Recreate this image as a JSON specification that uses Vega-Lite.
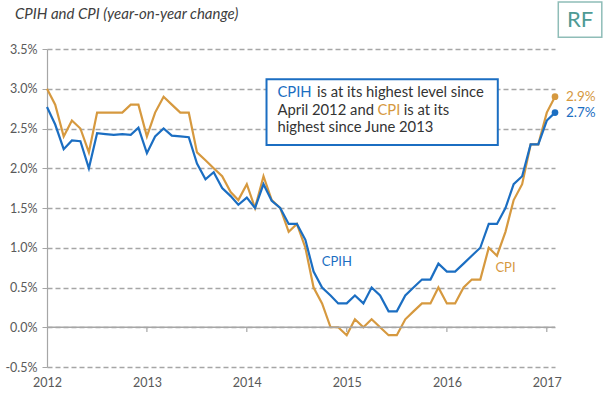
{
  "$schema": "https://vega.github.io/schema/vega-lite/v6.json",
  "width": 508,
  "height": 318,
  "autosize": "none",
  "padding": {"left": 47, "top": 49, "right": 50, "bottom": 30},
  "background": "white",
  "config": {
    "view": {"stroke": null},
    "font": "Lato",
    "axis": {"labelFont": "Lato", "labelColor": "#595959", "labelFontSize": 12.5}
  },
  "resolve": {"axis": {"x": "independent", "y": "independent"}},
  "datasets": {
    "cpi": [
      {"date": "2012-04-01", "CPIH": 2.77, "CPI": 3.0},
      {"date": "2012-05-01", "CPIH": 2.55, "CPI": 2.8},
      {"date": "2012-06-01", "CPIH": 2.24, "CPI": 2.4},
      {"date": "2012-07-01", "CPIH": 2.35, "CPI": 2.6},
      {"date": "2012-08-01", "CPIH": 2.34, "CPI": 2.5},
      {"date": "2012-09-01", "CPIH": 2.0, "CPI": 2.2},
      {"date": "2012-10-01", "CPIH": 2.44, "CPI": 2.7},
      {"date": "2012-11-01", "CPIH": 2.43, "CPI": 2.7},
      {"date": "2012-12-01", "CPIH": 2.42, "CPI": 2.7},
      {"date": "2013-01-01", "CPIH": 2.43, "CPI": 2.7},
      {"date": "2013-02-01", "CPIH": 2.42, "CPI": 2.8},
      {"date": "2013-03-01", "CPIH": 2.51, "CPI": 2.8},
      {"date": "2013-04-01", "CPIH": 2.19, "CPI": 2.4},
      {"date": "2013-05-01", "CPIH": 2.4, "CPI": 2.7},
      {"date": "2013-06-01", "CPIH": 2.5, "CPI": 2.9},
      {"date": "2013-07-01", "CPIH": 2.41, "CPI": 2.8},
      {"date": "2013-08-01", "CPIH": 2.4, "CPI": 2.7},
      {"date": "2013-09-01", "CPIH": 2.39, "CPI": 2.7},
      {"date": "2013-10-01", "CPIH": 2.06, "CPI": 2.2},
      {"date": "2013-11-01", "CPIH": 1.86, "CPI": 2.1},
      {"date": "2013-12-01", "CPIH": 1.95, "CPI": 2.0},
      {"date": "2014-01-01", "CPIH": 1.75, "CPI": 1.9},
      {"date": "2014-02-01", "CPIH": 1.65, "CPI": 1.7},
      {"date": "2014-03-01", "CPIH": 1.54, "CPI": 1.6},
      {"date": "2014-04-01", "CPIH": 1.63, "CPI": 1.8},
      {"date": "2014-05-01", "CPIH": 1.5, "CPI": 1.5},
      {"date": "2014-06-01", "CPIH": 1.8, "CPI": 1.9},
      {"date": "2014-07-01", "CPIH": 1.59, "CPI": 1.6},
      {"date": "2014-08-01", "CPIH": 1.5, "CPI": 1.5},
      {"date": "2014-09-01", "CPIH": 1.3, "CPI": 1.2},
      {"date": "2014-10-01", "CPIH": 1.3, "CPI": 1.3},
      {"date": "2014-11-01", "CPIH": 1.1, "CPI": 1.0},
      {"date": "2014-12-01", "CPIH": 0.7, "CPI": 0.5},
      {"date": "2015-01-01", "CPIH": 0.5, "CPI": 0.3},
      {"date": "2015-02-01", "CPIH": 0.4, "CPI": 0.0},
      {"date": "2015-03-01", "CPIH": 0.3, "CPI": 0.0},
      {"date": "2015-04-01", "CPIH": 0.3, "CPI": -0.1},
      {"date": "2015-05-01", "CPIH": 0.4, "CPI": 0.1},
      {"date": "2015-06-01", "CPIH": 0.3, "CPI": 0.0},
      {"date": "2015-07-01", "CPIH": 0.5, "CPI": 0.1},
      {"date": "2015-08-01", "CPIH": 0.4, "CPI": 0.0},
      {"date": "2015-09-01", "CPIH": 0.2, "CPI": -0.1},
      {"date": "2015-10-01", "CPIH": 0.2, "CPI": -0.1},
      {"date": "2015-11-01", "CPIH": 0.4, "CPI": 0.1},
      {"date": "2015-12-01", "CPIH": 0.5, "CPI": 0.2},
      {"date": "2016-01-01", "CPIH": 0.6, "CPI": 0.3},
      {"date": "2016-02-01", "CPIH": 0.6, "CPI": 0.3},
      {"date": "2016-03-01", "CPIH": 0.8, "CPI": 0.5},
      {"date": "2016-04-01", "CPIH": 0.7, "CPI": 0.3},
      {"date": "2016-05-01", "CPIH": 0.7, "CPI": 0.3},
      {"date": "2016-06-01", "CPIH": 0.8, "CPI": 0.5},
      {"date": "2016-07-01", "CPIH": 0.9, "CPI": 0.6},
      {"date": "2016-08-01", "CPIH": 1.0, "CPI": 0.6},
      {"date": "2016-09-01", "CPIH": 1.3, "CPI": 1.0},
      {"date": "2016-10-01", "CPIH": 1.3, "CPI": 0.9},
      {"date": "2016-11-01", "CPIH": 1.5, "CPI": 1.2},
      {"date": "2016-12-01", "CPIH": 1.8, "CPI": 1.6},
      {"date": "2017-01-01", "CPIH": 1.9, "CPI": 1.8},
      {"date": "2017-02-01", "CPIH": 2.3, "CPI": 2.3},
      {"date": "2017-03-01", "CPIH": 2.3, "CPI": 2.3},
      {"date": "2017-04-01", "CPIH": 2.6, "CPI": 2.7},
      {"date": "2017-05-01", "CPIH": 2.7, "CPI": 2.9}
    ]
  },
  "layer": [
    {
      "data": {"name": "cpi"},
      "transform": [{"fold": ["CPI", "CPIH"], "as": ["series", "value"]}],
      "mark": {"type": "line", "strokeWidth": 2.2},
      "encoding": {
        "x": {
          "field": "date",
          "type": "temporal",
          "title": null,
          "scale": {
            "type": "utc",
            "domain": [
              {"year": 2012, "month": 4, "date": 1, "utc": true},
              {"year": 2017, "month": 5, "date": 1, "utc": true}
            ]
          },
          "axis": {
            "values": [
              {"year": 2012, "month": 4, "date": 1, "utc": true},
              {"year": 2013, "month": 4, "date": 1, "utc": true},
              {"year": 2014, "month": 4, "date": 1, "utc": true},
              {"year": 2015, "month": 4, "date": 1, "utc": true},
              {"year": 2016, "month": 4, "date": 1, "utc": true},
              {"year": 2017, "month": 4, "date": 1, "utc": true}
            ],
            "labelExpr": "utcFormat(datum.value, '%Y')",
            "domain": false,
            "ticks": false,
            "grid": false,
            "labelPadding": 9,
            "labelFlush": false,
            "labelOverlap": false
          }
        },
        "y": {
          "field": "value",
          "type": "quantitative",
          "title": null,
          "scale": {"domain": [-0.5, 3.5], "nice": false, "zero": false},
          "axis": {
            "values": [-0.5, 0, 0.5, 1, 1.5, 2, 2.5, 3, 3.5],
            "labelExpr": "replace(format(datum.value, '.1f'), '\u2212', '-') + '%'",
            "grid": true,
            "gridDash": [5, 3],
            "gridColor": "#a6a6a6",
            "gridWidth": 1.3,
            "domainColor": "#a6a6a6",
            "domainWidth": 1.2,
            "tickColor": "#a6a6a6",
            "tickSize": 5,
            "labelPadding": 5,
            "labelOverlap": false
          }
        },
        "color": {
          "field": "series",
          "type": "nominal",
          "legend": null,
          "scale": {"domain": ["CPIH", "CPI"], "range": ["#1b6ec2", "#d6993f"]}
        }
      }
    },
    {
      "data": {"values": [{}]},
      "mark": {"type": "rule", "color": "#a6a6a6", "strokeWidth": 1.3},
      "encoding": {"y": {"datum": 0, "axis": null}}
    },
    {
      "data": {"values": [{"d": "2013-04-01"}, {"d": "2014-04-01"}, {"d": "2015-04-01"}, {"d": "2016-04-01"}, {"d": "2017-04-01"}]},
      "mark": {"type": "rule", "color": "#a6a6a6", "strokeWidth": 1.2},
      "encoding": {
        "x": {"field": "d", "type": "temporal", "axis": null},
        "y": {"datum": 0, "axis": null},
        "y2": {"datum": -0.06}
      }
    },
    {
      "data": {"name": "cpi"},
      "transform": [
        {"fold": ["CPI", "CPIH"], "as": ["series", "value"]},
        {"filter": "utcyear(datum.date) == 2017 && utcmonth(datum.date) == 4"},
        {"calculate": "format(datum.value, '.1f') + '%'", "as": "label"}
      ],
      "layer": [
        {
          "mark": {"type": "point", "filled": true, "size": 45, "opacity": 1},
          "encoding": {
            "x": {"field": "date", "type": "temporal", "axis": null},
            "y": {"field": "value", "type": "quantitative", "axis": null},
            "color": {"field": "series", "type": "nominal"}
          }
        },
        {
          "mark": {"type": "text", "align": "left", "baseline": "middle", "dx": 11, "fontSize": 13.5, "font": "Lato"},
          "encoding": {
            "x": {"field": "date", "type": "temporal", "axis": null},
            "y": {"field": "value", "type": "quantitative", "axis": null},
            "text": {"field": "label"},
            "color": {"field": "series", "type": "nominal"}
          }
        }
      ]
    },
    {
      "data": {"values": [{}]},
      "mark": {"type": "text", "fontSize": 13, "color": "#1b6ec2", "font": "Lato", "baseline": "middle"},
      "encoding": {
        "x": {"datum": {"year": 2015, "month": 2, "date": 24, "utc": true}, "type": "temporal", "axis": null},
        "y": {"datum": 0.82, "axis": null},
        "text": {"value": "CPIH"}
      }
    },
    {
      "data": {"values": [{}]},
      "mark": {"type": "text", "fontSize": 13, "color": "#d6993f", "font": "Lato", "baseline": "middle"},
      "encoding": {
        "x": {"datum": {"year": 2016, "month": 11, "date": 1, "utc": true}, "type": "temporal", "axis": null},
        "y": {"datum": 0.745, "axis": null},
        "text": {"value": "CPI"}
      }
    },
    {
      "data": {"values": [{}]},
      "mark": {"type": "rect", "fill": "white", "stroke": "#1b6ec2", "strokeWidth": 2},
      "encoding": {
        "x": {"datum": {"year": 2014, "month": 6, "date": 12, "utc": true}, "type": "temporal", "axis": null},
        "x2": {"datum": {"year": 2016, "month": 10, "date": 4, "utc": true}},
        "y": {"datum": 3.119, "axis": null},
        "y2": {"datum": 2.292}
      }
    },
    {
      "data": {"values": [{}]},
      "mark": {"type": "text", "align": "left", "baseline": "middle", "fontSize": 14.8, "font": "Lato", "color": "#1b6ec2"},
      "encoding": {
        "x": {"datum": {"year": 2014, "month": 7, "date": 22, "utc": true}, "type": "temporal", "axis": null},
        "y": {"datum": 2.943, "axis": null},
        "text": {"value": "CPIH"}
      }
    },
    {
      "data": {"values": [{}]},
      "mark": {"type": "text", "align": "left", "baseline": "middle", "fontSize": 14.8, "font": "Lato", "color": "#333333", "dx": 39.5},
      "encoding": {
        "x": {"datum": {"year": 2014, "month": 7, "date": 22, "utc": true}, "type": "temporal", "axis": null},
        "y": {"datum": 2.943, "axis": null},
        "text": {"value": "is at its highest level since"}
      }
    },
    {
      "data": {"values": [{}]},
      "mark": {"type": "text", "align": "left", "baseline": "middle", "fontSize": 14.8, "font": "Lato", "color": "#333333"},
      "encoding": {
        "x": {"datum": {"year": 2014, "month": 7, "date": 22, "utc": true}, "type": "temporal", "axis": null},
        "y": {"datum": 2.72, "axis": null},
        "text": {"value": "April 2012 and"}
      }
    },
    {
      "data": {"values": [{}]},
      "mark": {"type": "text", "align": "left", "baseline": "middle", "fontSize": 14.8, "font": "Lato", "color": "#d6993f", "dx": 100},
      "encoding": {
        "x": {"datum": {"year": 2014, "month": 7, "date": 22, "utc": true}, "type": "temporal", "axis": null},
        "y": {"datum": 2.72, "axis": null},
        "text": {"value": "CPI"}
      }
    },
    {
      "data": {"values": [{}]},
      "mark": {"type": "text", "align": "left", "baseline": "middle", "fontSize": 14.8, "font": "Lato", "color": "#333333", "dx": 126.3},
      "encoding": {
        "x": {"datum": {"year": 2014, "month": 7, "date": 22, "utc": true}, "type": "temporal", "axis": null},
        "y": {"datum": 2.72, "axis": null},
        "text": {"value": "is at its"}
      }
    },
    {
      "data": {"values": [{}]},
      "mark": {"type": "text", "align": "left", "baseline": "middle", "fontSize": 14.8, "font": "Lato", "color": "#333333"},
      "encoding": {
        "x": {"datum": {"year": 2014, "month": 7, "date": 22, "utc": true}, "type": "temporal", "axis": null},
        "y": {"datum": 2.503, "axis": null},
        "text": {"value": "highest since June 2013"}
      }
    },
    {
      "data": {"values": [{}]},
      "mark": {"type": "rect", "fill": "white", "stroke": "#8fbdb8", "strokeWidth": 1.5},
      "encoding": {
        "x": {"datum": {"year": 2017, "month": 5, "date": 13, "utc": true}, "type": "temporal", "axis": null},
        "x2": {"datum": {"year": 2017, "month": 10, "date": 19, "utc": true}},
        "y": {"datum": 4.091, "axis": null},
        "y2": {"datum": 3.647}
      }
    },
    {
      "data": {"values": [{}]},
      "mark": {"type": "text", "fontSize": 22, "color": "#4e9a94", "font": "Lato", "baseline": "middle", "align": "center"},
      "encoding": {
        "x": {"datum": {"year": 2017, "month": 8, "date": 1, "utc": true}, "type": "temporal", "axis": null},
        "y": {"datum": 3.865, "axis": null},
        "text": {"value": "RF"}
      }
    },
    {
      "data": {"values": [{}]},
      "mark": {"type": "text", "fontSize": 15, "fontStyle": "italic", "color": "#404040", "font": "Lato", "baseline": "middle", "align": "left"},
      "encoding": {
        "x": {"datum": {"year": 2011, "month": 12, "date": 6, "utc": true}, "type": "temporal", "axis": null},
        "y": {"datum": 3.94, "axis": null},
        "text": {"value": "CPIH and CPI (year-on-year change)"}
      }
    }
  ]
}
